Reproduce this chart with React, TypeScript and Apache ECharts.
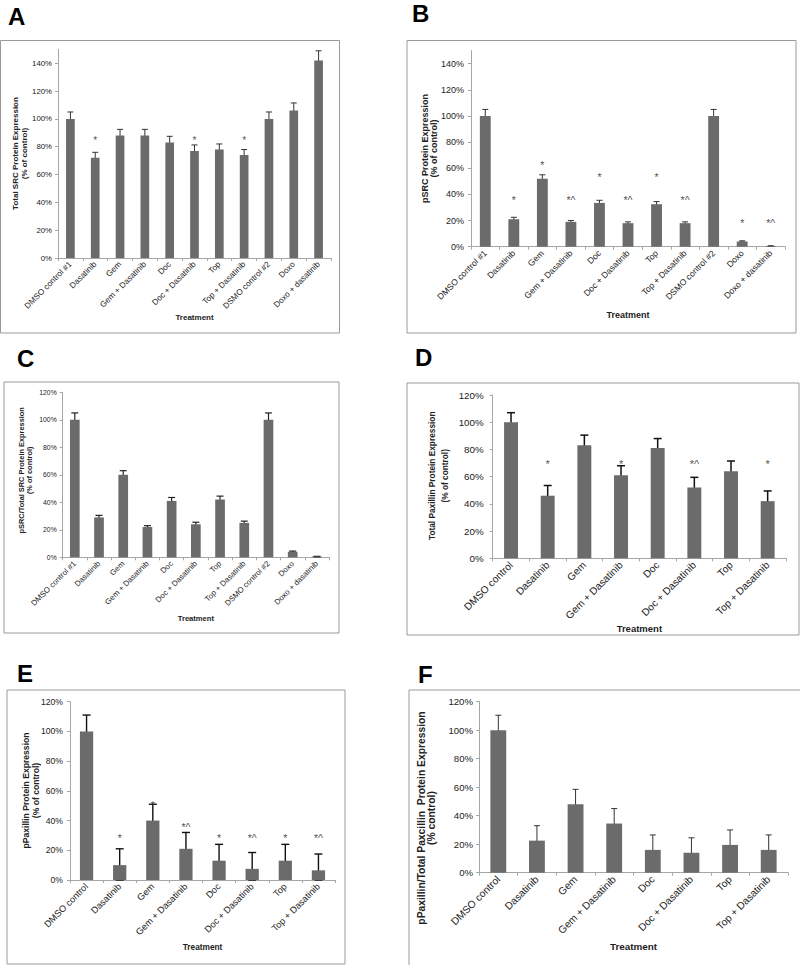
import React, { useEffect, useRef } from "react";
import * as echarts from "echarts";

// ---------- data ----------
const catsLong = [
  "DMSO control #1", "Dasatinib", "Gem", "Gem + Dasatinib", "Doc", "Doc + Dasatinib",
  "Top", "Top + Dasatinib", "DSMO control #2", "Doxo", "Doxo + dasatinib",
];
const catsShort = [
  "DMSO control", "Dasatinib", "Gem", "Gem + Dasatinib", "Doc", "Doc + Dasatinib",
  "Top", "Top + Dasatinib",
];

const valsA = [100, 72, 88, 88, 83, 77, 78, 74, 100, 106, 142];
const errA = [5, 4, 4.5, 4.5, 4.5, 4.3, 4, 4, 5, 5.5, 7];
const starA = ["", "*", "", "", "", "*", "", "*", "", "", ""];
const starYA = [null, 87, null, null, null, 87, null, 87, null, null, null];

const valsB = [100, 21, 52, 19, 33.5, 18, 32.5, 18, 100, 4, 0.5];
const errB = [5, 1.5, 3, 1, 2, 1, 2, 1, 5, 0.5, 0.2];
const starB = ["", "*", "*", "*^", "*", "*^", "*", "*^", "", "*", "*^"];
const starYB = [null, 38, 64.5, 38, 55.6, 38, 55.6, 38, null, 20.4, 20.4];

const valsC = [100, 29, 60, 22, 41, 24, 42, 25, 100, 4, 0.5];
const errC = [5, 1.5, 3, 1, 2.5, 1.5, 2.5, 1.3, 5, 0.5, 0.2];

const valsD = [100, 46, 83, 61, 81, 52, 64, 42];
const errD = [7, 7.5, 7.5, 7, 7, 7.5, 7.5, 7.5];
const starD = ["", "*", "", "*", "", "*^", "", "*"];
const starYD = [null, 71.8, null, 71.8, null, 71.8, null, 71.8];

const valsE = [100, 10, 40, 21, 13, 7.5, 13, 6.5];
const errE = [11, 11, 11, 11, 11, 11, 11, 11];
const starE = ["", "*", "*", "*^", "*", "*^", "*", "*^"];
const starYE = [null, 30.3, 52.7, 38, 30.3, 30.3, 30.3, 30.3];

const valsF = [100, 22.5, 48, 34.5, 16, 14, 19.5, 16];
const errF = [10.5, 10.5, 10.5, 10.5, 10.5, 10.5, 10.5, 10.5];

const yTitleA = "Total SRC Protein Expression\n(% of control)";
const yTitleB = "pSRC Protein Expression\n(% of control)";
const yTitleC = "pSRC/Total SRC Protein Expression\n(% of control)";
const yTitleD = "Total Paxillin Protein Expression\n(% of control)";
const yTitleE = "pPaxillin Protein Expression\n(% of control)";
const yTitleF = "pPaxillin/Total Paxcillin  Protein Expression\n(% control)";
const xTitle = "Treatment";

const FONT = "'Liberation Sans', Arial, sans-serif";
const BAR = "#6b6b6b";
const AXIS = "#a6a6a6";
const TXT = "#222222";

type Panel = {
  letter: string;
  letterPos: [number, number];
  box: [number, number, number, number];
  grid: { left: number; top: number; width: number; height: number };
  cats: string[];
  vals: number[];
  errs: number[];
  stars?: string[];
  starY?: (number | null)[];
  max: number;
  hideMax: boolean;
  tickFont: number;
  tickMargin: number;
  catFont: number;
  nameFont: number;
  nameGap: number;
  barWidth: string;
  cap: number;
  errColor: string;
  errWidth: number;
  yTitle: string;
  yTitlePos: [number, number];
  yTitleFont: number;
  yTitleLH: number;
  starFont: number;
};

const panels: Panel[] = [
  {
    letter: "A", letterPos: [8, 16], box: [0.5, 40.5, 339.5, 333],
    grid: { left: 58, top: 49.4, width: 273, height: 208.6 },
    cats: catsLong, vals: valsA, errs: errA, stars: starA, starY: starYA,
    max: 150, hideMax: true, tickFont: 7.8, tickMargin: 6, catFont: 8.2, nameFont: 8, nameGap: 55,
    barWidth: "35%", cap: 6, errColor: "#333", errWidth: 1,
    yTitle: yTitleA, yTitlePos: [19.8, 153.5], yTitleFont: 8, yTitleLH: 8.5, starFont: 10,
  },
  {
    letter: "B", letterPos: [412, 13.5], box: [407, 40.5, 796, 333],
    grid: { left: 471, top: 50.6, width: 314, height: 196.1 },
    cats: catsLong, vals: valsB, errs: errB, stars: starB, starY: starYB,
    max: 150, hideMax: true, tickFont: 9, tickMargin: 7, catFont: 8.6, nameFont: 9, nameGap: 64,
    barWidth: "38%", cap: 6, errColor: "#333", errWidth: 1,
    yTitle: yTitleB, yTitlePos: [429.5, 148.5], yTitleFont: 9, yTitleLH: 9, starFont: 10.5,
  },
  {
    letter: "C", letterPos: [17, 358.5], box: [4, 382, 339, 633],
    grid: { left: 62.7, top: 392.3, width: 266.3, height: 165 },
    cats: catsLong, vals: valsC, errs: errC,
    max: 120, hideMax: false, tickFont: 6.8, tickMargin: 6, catFont: 7.8, nameFont: 7.6, nameGap: 57,
    barWidth: "40%", cap: 7, errColor: "#222", errWidth: 1.2,
    yTitle: yTitleC, yTitlePos: [25.3, 470.3], yTitleFont: 7.4, yTitleLH: 8.5, starFont: 8,
  },
  {
    letter: "D", letterPos: [415, 357], box: [407, 383, 799, 635],
    grid: { left: 492.7, top: 395, width: 293.3, height: 163.3 },
    cats: catsShort, vals: valsD, errs: errD, stars: starD, starY: starYD,
    max: 120, hideMax: false, tickFont: 9.8, tickMargin: 9, catFont: 10.2, nameFont: 9.5, nameGap: 57,
    barWidth: "38%", cap: 8, errColor: "#111", errWidth: 1.5,
    yTitle: yTitleD, yTitlePos: [438.8, 475.8], yTitleFont: 8.3, yTitleLH: 13, starFont: 11,
  },
  {
    letter: "E", letterPos: [17, 673.5], box: [7, 690, 345, 964],
    grid: { left: 70, top: 701.7, width: 265, height: 178.3 },
    cats: catsShort, vals: valsE, errs: errE, stars: starE, starY: starYE,
    max: 120, hideMax: false, tickFont: 8.6, tickMargin: 7, catFont: 9.2, nameFont: 8.3, nameGap: 63,
    barWidth: "40%", cap: 8, errColor: "#111", errWidth: 1.4,
    yTitle: yTitleE, yTitlePos: [31, 790.5], yTitleFont: 8.6, yTitleLH: 10, starFont: 10.5,
  },
  {
    letter: "F", letterPos: [418, 674.5], box: [409, 690, 805, 970],
    grid: { left: 479, top: 701.7, width: 309, height: 171 },
    cats: catsShort, vals: valsF, errs: errF,
    max: 120, hideMax: false, tickFont: 9.6, tickMargin: 6, catFont: 10.3, nameFont: 9.9, nameGap: 69,
    barWidth: "41%", cap: 6, errColor: "#333", errWidth: 1,
    yTitle: yTitleF, yTitlePos: [426.3, 818], yTitleFont: 10.3, yTitleLH: 10, starFont: 9,
  },
];

function buildOption() {
  const grid: any[] = [];
  const xAxis: any[] = [];
  const yAxis: any[] = [];
  const series: any[] = [];
  const graphic: any[] = [];

  panels.forEach((p, i) => {
    grid.push({ ...p.grid, containLabel: false });
    xAxis.push({
      type: "category",
      gridIndex: i,
      data: p.cats,
      name: xTitle,
      nameLocation: "middle",
      nameGap: p.nameGap,
      nameTextStyle: { fontFamily: FONT, fontSize: p.nameFont, fontWeight: "bold", color: TXT },
      axisLine: { show: true, lineStyle: { color: AXIS, width: 1 } },
      axisTick: { show: true, length: 3, lineStyle: { color: AXIS } },
      axisLabel: {
        rotate: 45, interval: 0, margin: 5, fontFamily: FONT, fontSize: p.catFont, color: TXT,
      },
      splitLine: { show: false },
    });
    yAxis.push({
      type: "value",
      gridIndex: i,
      min: 0,
      max: p.max,
      interval: 20,
      axisLine: { show: true, lineStyle: { color: AXIS, width: 1 } },
      axisTick: { show: true, length: 3, lineStyle: { color: AXIS } },
      axisLabel: {
        formatter: "{value}%", fontFamily: FONT, fontSize: p.tickFont, color: TXT,
        margin: p.tickMargin, showMaxLabel: !p.hideMax,
      },
      splitLine: { show: false },
    });
    series.push({
      type: "bar",
      xAxisIndex: i,
      yAxisIndex: i,
      data: p.vals,
      barWidth: p.barWidth,
      itemStyle: { color: BAR },
      silent: true,
    });
    const cap = p.cap, col = p.errColor, lw = p.errWidth;
    series.push({
      type: "custom",
      xAxisIndex: i,
      yAxisIndex: i,
      data: p.vals.map((v, k) => [k, v, p.errs[k]]),
      encode: { x: 0, y: 1 },
      silent: true,
      renderItem: (params: any, api: any) => {
        const x = api.value(0);
        const v = api.value(1);
        const e = api.value(2);
        const top = api.coord([x, v + e]);
        const bot = api.coord([x, Math.max(0, v - e)]);
        const st = { stroke: col, lineWidth: lw };
        return {
          type: "group",
          children: [
            { type: "line", shape: { x1: top[0], y1: top[1], x2: bot[0], y2: bot[1] }, style: st },
            { type: "line", shape: { x1: top[0] - cap / 2, y1: top[1], x2: top[0] + cap / 2, y2: top[1] }, style: st },
            { type: "line", shape: { x1: bot[0] - cap / 2, y1: bot[1], x2: bot[0] + cap / 2, y2: bot[1] }, style: st },
          ],
        };
      },
    });
    if (p.stars && p.starY) {
      const data: any[] = [];
      p.stars.forEach((s, k) => {
        const y = p.starY![k];
        if (s && y != null) data.push({ value: [k, y], star: s });
      });
      series.push({
        type: "scatter",
        xAxisIndex: i,
        yAxisIndex: i,
        data,
        symbolSize: 1,
        itemStyle: { color: "rgba(0,0,0,0)" },
        silent: true,
        label: {
          show: true,
          position: "inside",
          offset: [0, 3],
          formatter: (pr: any) => pr.data.star,
          fontFamily: FONT,
          fontSize: p.starFont,
          color: TXT,
        },
      });
    }
    const [x1, y1, x2, y2] = p.box;
    graphic.push({
      type: "rect",
      shape: { x: x1, y: y1, width: x2 - x1, height: y2 - y1 },
      style: { fill: "none", stroke: "#9a9a9a", lineWidth: 1 },
      silent: true,
    });
    graphic.push({
      type: "text",
      x: p.letterPos[0],
      y: p.letterPos[1],
      style: {
        text: p.letter, fontFamily: FONT, fontSize: 24, fontWeight: "bold", fill: "#000",
        align: "left", verticalAlign: "middle",
      },
      silent: true,
    });
    graphic.push({
      type: "text",
      x: p.yTitlePos[0],
      y: p.yTitlePos[1],
      rotation: Math.PI / 2,
      style: {
        text: p.yTitle, fontFamily: FONT, fontSize: p.yTitleFont, fontWeight: "bold", fill: TXT,
        align: "center", verticalAlign: "middle", lineHeight: p.yTitleLH,
      },
      silent: true,
    });
  });

  return {
    animation: false,
    backgroundColor: "#ffffff",
    textStyle: { fontFamily: FONT },
    grid,
    xAxis,
    yAxis,
    series,
    graphic,
  };
}

export default function App() {
  const ref = useRef<HTMLDivElement>(null);
  useEffect(() => {
    if (!ref.current) return;
    const chart = echarts.init(ref.current, null, { renderer: "svg" });
    chart.setOption(buildOption() as any);
    return () => chart.dispose();
  }, []);
  return (
    <div
      ref={ref}
      style={{ position: "absolute", left: 0, top: 0, width: 800, height: 965, background: "#fff" }}
    />
  );
}
